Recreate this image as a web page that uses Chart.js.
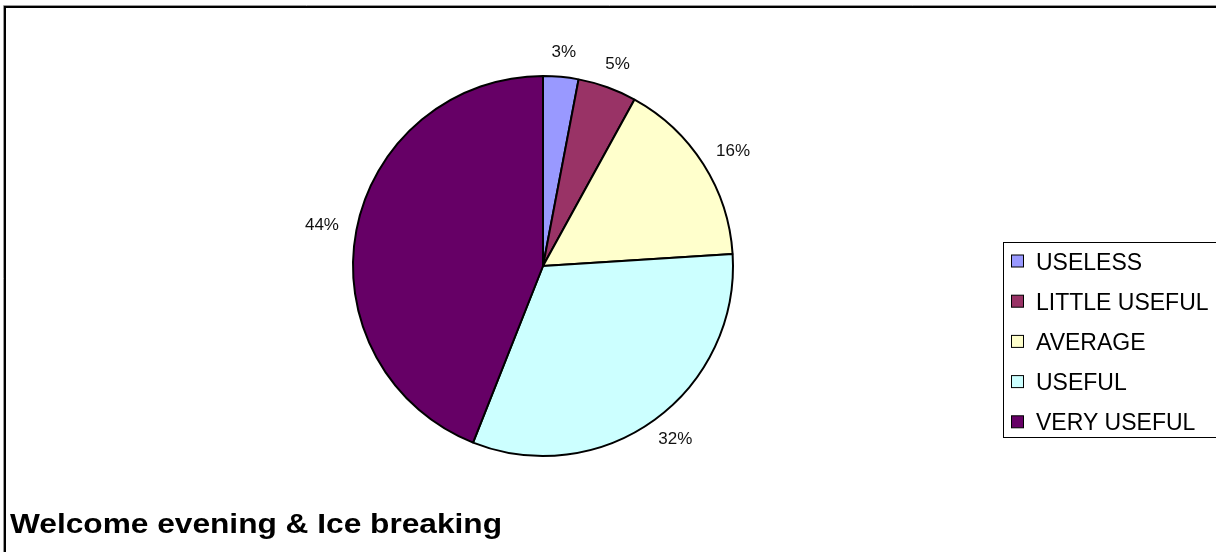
<!DOCTYPE html>
<html>
<head>
<meta charset="utf-8">
<title>Welcome evening & Ice breaking</title>
<script src="https://cdn.jsdelivr.net/npm/chart.js@4.4.0/dist/chart.umd.min.js"></script>
<style>
    html, body { margin: 0; padding: 0; background: #fff; }
    #wrap { width: 1216px; height: 552px; position: relative; }
</style>
</head>
<body>
<div id="wrap"><canvas id="pieChart"></canvas></div>
<script>
// Survey answers (percent of respondents)
const answerLabels = ['USELESS', 'LITTLE USEFUL', 'AVERAGE', 'USEFUL', 'VERY USEFUL'];
const answerShares = [3, 5, 16, 32, 44];
const answerColors = ['#9999FF', '#993366', '#FFFFCC', '#CCFFFF', '#660066'];
const chartTitle = 'Welcome evening & Ice breaking';

const FONT = '"Liberation Sans", Arial, sans-serif';

// Percent labels just outside each slice
const sliceLabels = {
    id: 'sliceLabels',
    afterDatasetsDraw(chart) {
        const ctx = chart.ctx;
        const arcs = chart.getDatasetMeta(0).data;
        const total = answerShares.reduce((s, v) => s + v, 0);
        ctx.save();
        ctx.font = '17px ' + FONT;
        ctx.fillStyle = '#111';
        ctx.textAlign = 'center';
        ctx.textBaseline = 'middle';
        arcs.forEach((arc, i) => {
            const mid = (arc.startAngle + arc.endAngle) / 2;
            const text = Math.round(answerShares[i] / total * 100) + '%';
            const w = ctx.measureText(text).width;
            const h = 13;
            const r = arc.outerRadius + 18;
            const cx = arc.x + Math.cos(mid) * (r + w / 2);
            const cy = arc.y + Math.sin(mid) * (r + h / 2);
            ctx.fillText(text, cx, cy);
        });
        ctx.restore();
    }
};

// Boxed legend on the right
const boxLegend = {
    id: 'boxLegend',
    afterDraw(chart) {
        const ctx = chart.ctx;
        ctx.save();
        ctx.strokeStyle = '#000';
        ctx.lineWidth = 1;
        ctx.strokeRect(1003.5, 242.5, 230, 195);
        ctx.font = '23px ' + FONT;
        ctx.textBaseline = 'alphabetic';
        answerLabels.forEach((label, i) => {
            const base = 269.5 + i * 40.2;
            ctx.fillStyle = answerColors[i];
            ctx.fillRect(1011.5, base - 14.5, 12, 12);
            ctx.strokeStyle = '#000';
            ctx.strokeRect(1011.5, base - 14.5, 12, 12);
            ctx.fillStyle = '#000';
            ctx.fillText(label, 1036, base);
        });
        ctx.restore();
    }
};

// Outer frame and the bold caption at the bottom
const frameAndTitle = {
    id: 'frameAndTitle',
    afterDraw(chart) {
        const ctx = chart.ctx;
        ctx.save();
        ctx.strokeStyle = '#999';
        ctx.lineWidth = 1;
        ctx.beginPath();
        ctx.moveTo(3.5, 552); ctx.lineTo(3.5, 5.5); ctx.lineTo(1216, 5.5);
        ctx.stroke();
        ctx.strokeStyle = '#000';
        ctx.lineWidth = 2;
        ctx.beginPath();
        ctx.moveTo(5, 552); ctx.lineTo(5, 7); ctx.lineTo(1216, 7);
        ctx.stroke();

        ctx.font = 'bold 28px ' + FONT;
        ctx.fillStyle = '#000';
        ctx.textBaseline = 'alphabetic';
        const w = ctx.measureText(chartTitle).width;
        const sx = 492 / w;
        ctx.translate(10, 533);
        ctx.scale(sx, 1);
        ctx.fillText(chartTitle, 0, 0);
        ctx.restore();
    }
};

new Chart(document.getElementById('pieChart'), {
    type: 'pie',
    data: {
        labels: answerLabels,
        datasets: [{
            data: answerShares,
            backgroundColor: answerColors,
            borderColor: '#000',
            borderWidth: 2
        }]
    },
    options: {
        responsive: true,
        maintainAspectRatio: false,
        animation: false,
        events: [],
        layout: {
            padding: { left: 352, right: 482, top: 75, bottom: 95 }
        },
        plugins: {
            legend: { display: false },
            tooltip: { enabled: false },
            title: { display: false }
        }
    },
    plugins: [sliceLabels, boxLegend, frameAndTitle]
});
</script>
</body>
</html>
